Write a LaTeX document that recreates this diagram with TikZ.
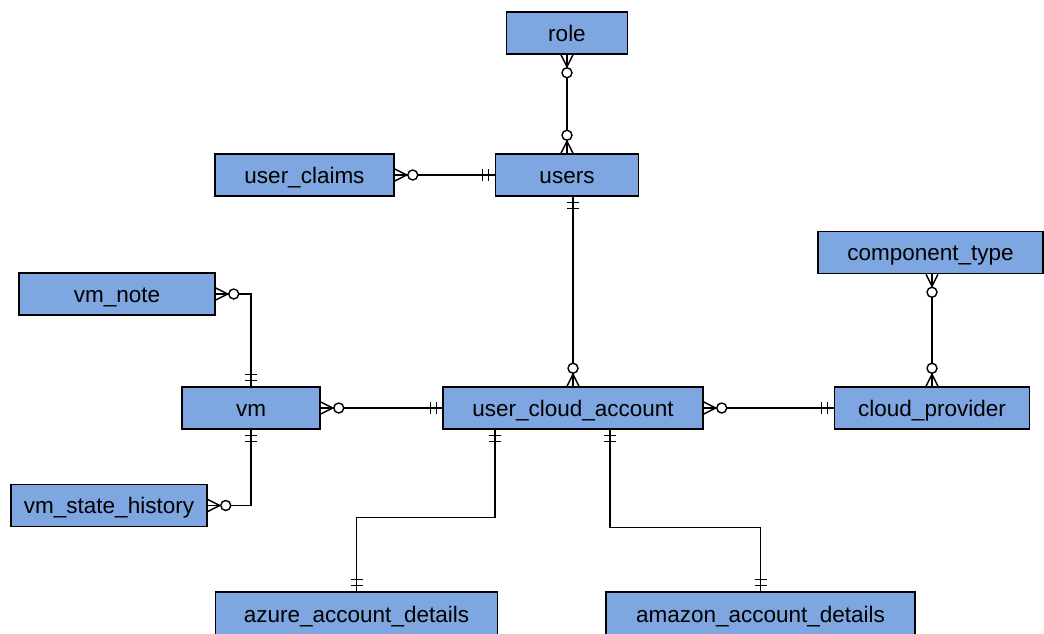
\documentclass[tikz,border=0pt]{standalone}
\usepackage{fontspec}
\setmainfont{Liberation Sans}
\definecolor{entityblue}{HTML}{7EA6E0}
\tikzset{
  entity/.style={draw=black, fill=entityblue, line width=1.5pt,
    minimum height=42pt, inner sep=0pt, text height=16.5pt, text depth=0.5pt,
    font=\fontsize{22.5}{26}\selectfont},
  link/.style={draw=black, line width=1.4pt},
  % mandatory one: two bars across the line
  mandone/.pic={
    \draw[line width=1.4pt] (6,-6) -- (6,6) (12,-6) -- (12,6);
  },
  % zero or many: crow's foot plus an open circle
  zmany/.pic={
    \draw[line width=1.4pt] (0,-6) -- (12,0) -- (0,6);
    \draw[line width=1.4pt, fill=white] (18,0) circle[radius=5pt];
  }
}
\begin{document}
\begin{tikzpicture}[x=1pt, y=-1pt]
\useasboundingbox (0,0) rectangle (1044,633);

% entities
\node[entity, minimum width=121pt] (role) at (567,33) {role};
\node[entity, minimum width=143pt] (users) at (567,175) {users};
\node[entity, minimum width=179pt] (claims) at (304.5,175) {user\_claims};
\node[entity, minimum width=225pt] (ctype) at (930.5,252.5) {component\_type};
\node[entity, minimum width=196pt] (vmnote) at (117,294) {vm\_note};
\node[entity, minimum width=138pt] (vm) at (251,408) {vm};
\node[entity, minimum width=260pt] (uca) at (573,408) {user\_cloud\_account};
\node[entity, minimum width=195pt] (cprov) at (932,408) {cloud\_provider};
\node[entity, minimum width=196pt] (vsh) at (109,505.5) {vm\_state\_history};
\node[entity, minimum width=282pt, minimum height=44pt] (azure) at (356.5,614) {azure\_account\_details};
\node[entity, minimum width=309pt, minimum height=44pt] (amazon) at (760.5,614) {amazon\_account\_details};

% connector end points off the node centres
\coordinate (usersbot) at (uca.north |- users.south);
\coordinate (ctbot) at (cprov.north |- ctype.south);
\coordinate (ua) at ([xshift=-78pt]uca.south);
\coordinate (ub) at ([xshift=37pt]uca.south);

% connectors
\draw[link] (role.south) -- (users.north);
\draw[link] (claims.east) -- (users.west);
\draw[link] (usersbot) -- (uca.north);
\draw[link] (vmnote.east) -| (vm.north);
\draw[link] (vm.south) |- (vsh.east);
\draw[link] (vm.east) -- (uca.west);
\draw[link] (uca.east) -- (cprov.west);
\draw[link] (ctbot) -- (cprov.north);
\draw[link] (ua) -- ++(0,88) -| (azure.north);
\draw[link] (ub) -- ++(0,98) -| (amazon.north);

% cardinality markers
\pic[rotate=-90] at (role.south) {zmany};
\pic[rotate=90] at (users.north) {zmany};
\pic at (claims.east) {zmany};
\pic[rotate=180] at (users.west) {mandone};
\pic[rotate=-90] at (usersbot) {mandone};
\pic[rotate=90] at (uca.north) {zmany};
\pic at (vmnote.east) {zmany};
\pic[rotate=90] at (vm.north) {mandone};
\pic[rotate=-90] at (vm.south) {mandone};
\pic at (vsh.east) {zmany};
\pic at (vm.east) {zmany};
\pic[rotate=180] at (uca.west) {mandone};
\pic at (uca.east) {zmany};
\pic[rotate=180] at (cprov.west) {mandone};
\pic[rotate=-90] at (ctbot) {zmany};
\pic[rotate=90] at (cprov.north) {zmany};
\pic[rotate=-90] at (ua) {mandone};
\pic[rotate=90] at (azure.north) {mandone};
\pic[rotate=-90] at (ub) {mandone};
\pic[rotate=90] at (amazon.north) {mandone};
\end{tikzpicture}
\end{document}
